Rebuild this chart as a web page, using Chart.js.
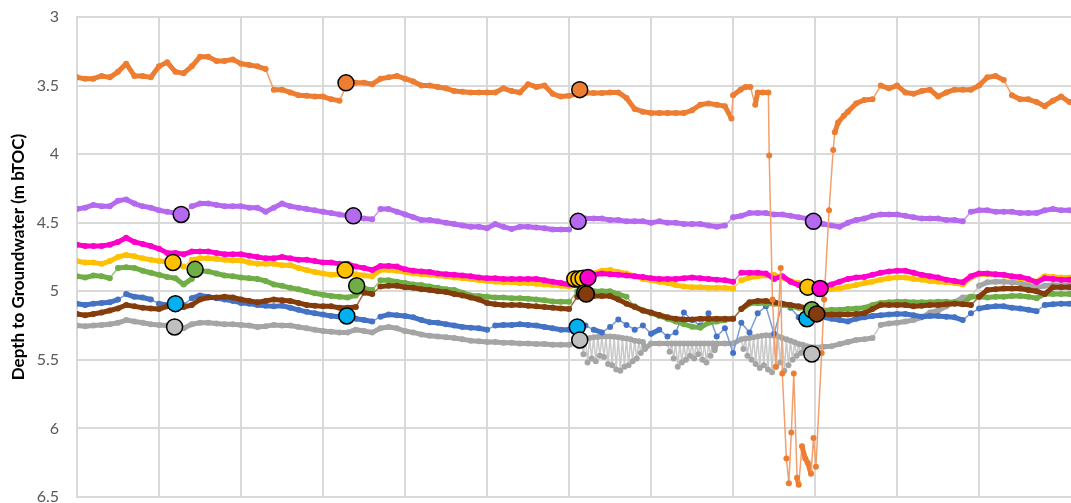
<!DOCTYPE html>
<html>
<head>
<meta charset="utf-8">
<title>Depth to Groundwater</title>
<script src="https://cdn.jsdelivr.net/npm/chart.js@4.4.1/dist/chart.umd.min.js"></script>
<style>
    body { margin: 0; background: #ffffff; }
</style>
</head>
<body>
<canvas id="myChart" width="1071" height="503"></canvas>
<script>
// day number of each logger reading (gridlines every 10 days)
var days = [];
for (var d = 0; d <= 121; d++) days.push(d);

// logger depths, m below top of casing, one per day
var purpleDepth = [
    4.40, 4.39, 4.37, 4.38, 4.38, 4.34, 4.33, 4.36, 4.38, 4.39,
    4.41, 4.42, 4.43, 4.44, 4.38, 4.36, 4.36, 4.37, 4.38, 4.38,
    4.38, 4.39, 4.39, 4.42, 4.39, 4.36, 4.38, 4.39, 4.40, 4.41,
    4.42, 4.43, 4.44, 4.45, 4.46, 4.47, 4.475, 4.40, 4.40, 4.42,
    4.44, 4.46, 4.48, 4.48, 4.49, 4.50, 4.51, 4.52, 4.53, 4.53,
    4.54, 4.51, 4.53, 4.545, 4.53, 4.53, 4.535, 4.54, 4.55, 4.55,
    4.55, 4.48, 4.47, 4.47, 4.47, 4.48, 4.48, 4.49, 4.49, 4.49,
    4.50, 4.49, 4.50, 4.50, 4.51, 4.51, 4.51, 4.52, 4.53, 4.52,
    4.46, 4.45, 4.43, 4.43, 4.43, 4.44, 4.44, 4.45, 4.46, 4.47,
    4.49, 4.51, 4.52, 4.53, 4.50, 4.48, 4.47, 4.45, 4.44, 4.44,
    4.44, 4.45, 4.46, 4.47, 4.47, 4.47, 4.48, 4.48, 4.49, 4.42,
    4.41, 4.41, 4.42, 4.42, 4.42, 4.43, 4.43, 4.43, 4.41, 4.40,
    4.41, 4.41
];
var magentaDepth = [
    4.66, 4.67, 4.67, 4.67, 4.66, 4.64, 4.61, 4.64, 4.655, 4.67,
    4.69, 4.72, 4.72, 4.73, 4.71, 4.71, 4.71, 4.72, 4.73, 4.73,
    4.73, 4.74, 4.75, 4.76, 4.76, 4.75, 4.76, 4.77, 4.77, 4.78,
    4.79, 4.79, 4.80, 4.80, 4.82, 4.83, 4.845, 4.815, 4.815, 4.82,
    4.84, 4.85, 4.855, 4.86, 4.87, 4.875, 4.88, 4.885, 4.89, 4.90,
    4.905, 4.905, 4.91, 4.91, 4.91, 4.91, 4.91, 4.92, 4.93, 4.94,
    4.95, 4.93, 4.925, 4.88, 4.87, 4.875, 4.88, 4.885, 4.89, 4.895,
    4.905, 4.91, 4.91, 4.91, 4.905, 4.90, 4.905, 4.91, 4.915, 4.92,
    4.93, 4.865, 4.865, 4.865, 4.87, 4.91, 4.89, 4.93, 4.955, 4.96,
    4.97, 4.965, 4.95, 4.93, 4.91, 4.90, 4.895, 4.88, 4.865, 4.855,
    4.85, 4.85, 4.865, 4.88, 4.89, 4.90, 4.915, 4.925, 4.935, 4.89,
    4.87, 4.87, 4.875, 4.88, 4.89, 4.895, 4.91, 4.935, 4.905, 4.91,
    4.915, 4.915
];
var yellowDepth = [
    4.78, 4.79, 4.79, 4.80, 4.78, 4.75, 4.735, 4.745, 4.76, 4.77,
    4.78, 4.785, 4.80, 4.82, 4.77, 4.76, 4.76, 4.765, 4.77, 4.775,
    4.775, 4.79, 4.80, 4.80, 4.80, 4.81, 4.81, 4.83, 4.845, 4.86,
    4.87, 4.88, 4.875, 4.875, 4.875, 4.885, 4.89, 4.845, 4.845, 4.85,
    4.86, 4.87, 4.875, 4.88, 4.885, 4.89, 4.90, 4.905, 4.91, 4.92,
    4.925, 4.93, 4.935, 4.935, 4.94, 4.94, 4.945, 4.95, 4.955, 4.96,
    4.965, 4.955, 4.94, 4.87, 4.85, 4.845, 4.86, 4.87, 4.89, 4.91,
    4.92, 4.93, 4.94, 4.955, 4.965, 4.97, 4.97, 4.975, 4.975, 4.975,
    4.98, 4.92, 4.90, 4.89, 4.885, 4.88, 4.90, 4.925, 4.94, 4.96,
    4.985, 4.99, 4.985, 4.98, 4.965, 4.955, 4.94, 4.93, 4.915, 4.905,
    4.90, 4.90, 4.91, 4.915, 4.925, 4.93, 4.935, 4.94, 4.95, 4.90,
    4.875, 4.875, 4.88, 4.885, 4.895, 4.905, 4.915, 4.93, 4.89, 4.895,
    4.90, 4.90
];
var greenDepth = [
    4.89, 4.90, 4.885, 4.89, 4.905, 4.83, 4.825, 4.83, 4.85, 4.865,
    4.88, 4.895, 4.905, 4.95, 4.91, 4.85, 4.855, 4.87, 4.885, 4.89,
    4.90, 4.905, 4.91, 4.925, 4.95, 4.96, 4.975, 4.985, 5.00, 5.015,
    5.025, 5.035, 5.04, 5.045, 5.03, 4.98, 4.99, 4.92, 4.92, 4.93,
    4.94, 4.95, 4.955, 4.965, 4.975, 4.985, 4.99, 5.01, 5.03, 5.035,
    5.04, 5.045, 5.045, 5.05, 5.05, 5.055, 5.06, 5.065, 5.075, 5.076,
    5.076, 5.00, 5.00, 5.00, 5.00, 5.00, 5.02, 5.04, 5.11, 5.14,
    5.16, 5.18, 5.20, 5.22, 5.24, 5.258, 5.265, 5.23, 5.22, 5.21,
    5.20, 5.13, 5.09, 5.085, 5.09, 5.09, 5.10, 5.11, 5.12, 5.125,
    5.13, 5.14, 5.135, 5.135, 5.13, 5.125, 5.12, 5.10, 5.085, 5.08,
    5.076, 5.076, 5.08, 5.08, 5.08, 5.076, 5.076, 5.08, 5.09, 5.04,
    5.04, 5.045, 5.04, 5.04, 5.035, 5.035, 5.04, 5.05, 5.02, 5.02,
    5.02, 5.02
];
var brownDepth = [
    5.165, 5.175, 5.165, 5.155, 5.14, 5.125, 5.10, 5.11, 5.12, 5.125,
    5.13, 5.11, 5.10, 5.115, 5.10, 5.06, 5.045, 5.045, 5.04, 5.045,
    5.06, 5.07, 5.08, 5.07, 5.06, 5.065, 5.07, 5.085, 5.10, 5.105,
    5.11, 5.11, 5.12, 5.12, 5.115, 5.01, 5.02, 4.965, 4.96, 4.96,
    4.97, 4.975, 4.985, 4.99, 5.00, 5.005, 5.02, 5.03, 5.045, 5.06,
    5.085, 5.095, 5.10, 5.10, 5.10, 5.105, 5.11, 5.115, 5.12, 5.125,
    5.13, 5.04, 5.03, 5.035, 5.035, 5.035, 5.06, 5.09, 5.115, 5.14,
    5.155, 5.173, 5.19, 5.20, 5.205, 5.205, 5.20, 5.20, 5.20, 5.20,
    5.20, 5.13, 5.08, 5.07, 5.07, 5.08, 5.09, 5.10, 5.11, 5.12,
    5.15, 5.17, 5.17, 5.17, 5.17, 5.165, 5.16, 5.13, 5.10, 5.10,
    5.10, 5.10, 5.11, 5.105, 5.10, 5.10, 5.095, 5.09, 5.095, 5.10,
    5.04, 4.99, 4.985, 4.98, 4.98, 4.98, 4.99, 5.00, 5.02, 4.97,
    4.97, 4.97
];
var blueDepth = [
    5.09, 5.10, 5.09, 5.085, 5.08, 5.06, 5.02, 5.04, 5.045, 5.06,
    5.09, 5.10, 5.095, 5.10, 5.05, 5.03, 5.04, 5.05, 5.06, 5.07,
    5.085, 5.09, 5.10, 5.105, 5.11, 5.105, 5.12, 5.135, 5.15, 5.16,
    5.17, 5.18, 5.185, 5.19, 5.20, 5.21, 5.22, 5.185, 5.17, 5.175,
    5.18, 5.19, 5.21, 5.225, 5.23, 5.24, 5.25, 5.26, 5.265, 5.27,
    5.28, 5.25, 5.245, 5.245, 5.24, 5.245, 5.25, 5.26, 5.27, 5.28,
    5.28, 5.26, 5.25, 5.28, 5.30, 5.26, 5.205, 5.245, 5.28, 5.25,
    5.31, 5.28, 5.33, 5.30, 5.155, 5.21, 5.25, 5.16, 5.33, 5.27,
    5.45, 5.23, 5.30, 5.16, 5.11, 5.31, 5.09, 5.12, 5.19, 5.20,
    5.19, 5.19, 5.20, 5.21, 5.22, 5.20, 5.19, 5.18, 5.175, 5.17,
    5.165, 5.165, 5.175, 5.185, 5.18, 5.18, 5.185, 5.19, 5.21, 5.16,
    5.125, 5.115, 5.11, 5.11, 5.12, 5.125, 5.135, 5.145, 5.10, 5.095,
    5.09, 5.09
];
var greyDepth = [
    5.25, 5.255, 5.25, 5.245, 5.24, 5.23, 5.21, 5.22, 5.23, 5.24,
    5.245, 5.25, 5.26, 5.27, 5.24, 5.23, 5.23, 5.235, 5.24, 5.24,
    5.245, 5.25, 5.26, 5.255, 5.245, 5.25, 5.25, 5.26, 5.27, 5.28,
    5.29, 5.295, 5.30, 5.30, 5.28, 5.29, 5.30, 5.27, 5.26, 5.27,
    5.29, 5.30, 5.315, 5.325, 5.33, 5.335, 5.34, 5.35, 5.36, 5.365,
    5.37, 5.37, 5.375, 5.375, 5.38, 5.38, 5.385, 5.385, 5.39, 5.39,
    5.39, 5.37, 5.345, 5.335, 5.33, 5.33, 5.335, 5.345, 5.36, 5.37,
    5.38, 5.38, 5.38, 5.38, 5.38, 5.38, 5.38, 5.38, 5.38, 5.38,
    5.38, 5.35, 5.34, 5.33, 5.32, 5.325, 5.34, 5.36, 5.385, 5.40,
    5.41, 5.405, 5.40, 5.385, 5.37, 5.355, 5.35, 5.34, 5.245, 5.235,
    5.23, 5.22, 5.21, 5.19, 5.155, 5.14, 5.11, 5.08, 5.045, 5.04,
    4.96, 4.935, 4.93, 4.93, 4.935, 4.94, 4.955, 4.975, 4.96, 4.955,
    4.955, 4.955
];
// extra grey readings in the three stretches where it kept dropping
var greyMidDays = [61.5, 62.5, 63.5, 64.5, 65.5, 66.5, 67.5, 68.5,
    72.5, 73.5, 74.5, 75.5, 76.5, 77.5,
    81.5, 82.5, 83.5, 84.5, 85.5, 86.5, 87.5, 88.5];
var greyMidDepth = [5.355, 5.34, 5.333, 5.33, 5.332, 5.34, 5.35, 5.365,
    5.38, 5.38, 5.38, 5.38, 5.38, 5.38,
    5.345, 5.335, 5.325, 5.322, 5.33, 5.35, 5.372, 5.39];
var greyDropDays = [61.25, 61.75, 62.25, 62.75, 63.25, 63.75, 64.25, 64.75, 65.25,
    65.75, 66.25, 66.75, 67.25, 67.75, 68.25, 68.75, 69.25,
    72.25, 72.75, 73.25, 73.75, 74.25, 74.75, 75.25, 75.75, 76.25, 76.75, 77.25, 77.75,
    81.25, 81.75, 82.25, 82.75, 83.25, 83.75, 84.25, 84.75, 85.25, 85.75, 86.25,
    86.75, 87.25, 87.75, 88.25, 88.75];
var greyDropDepth = [5.40, 5.46, 5.52, 5.49, 5.51, 5.47, 5.48, 5.53, 5.54,
    5.57, 5.58, 5.55, 5.54, 5.51, 5.49, 5.45, 5.42,
    5.44, 5.49, 5.55, 5.52, 5.50, 5.47, 5.49, 5.46, 5.50, 5.52, 5.47, 5.43,
    5.42, 5.47, 5.50, 5.53, 5.56, 5.54, 5.57, 5.59, 5.55, 5.52, 5.58,
    5.54, 5.50, 5.47, 5.45, 5.43];

// orange logger has its own times (denser while it was pumped)
var orangeDays = [
    0, 1, 2, 3, 4, 5, 6, 7, 8, 9, 10, 11, 12, 13, 14, 15, 16, 17, 18, 19,
    20, 21, 22, 23, 24, 25, 26, 27, 28, 29, 30, 31, 32, 33, 34, 35, 36, 37, 38, 39,
    40, 41, 42, 43, 44, 45, 46, 47, 48, 49, 50, 51, 52, 53, 54, 55, 56, 57, 58, 59,
    60, 61, 62, 63, 64, 65, 66, 67, 68, 69, 70, 71, 72, 73, 74, 75, 76, 77, 78, 79,
    79.8, 80, 80.9, 81.5, 82.1, 82.7, 83, 83.6, 84.3, 84.4, 84.8, 85.2, 85.8, 86,
    86.5, 86.8, 87.1, 87.4, 87.8, 88, 88.4, 88.8, 89.1, 89.5, 89.8, 90.1, 90.8,
    91.1, 91.7, 92.2, 92.4, 92.8, 93.5, 94, 95,
    96, 97, 98, 99, 100, 101, 102, 103, 104, 105, 106, 107, 108, 109, 110,
    111, 112, 113, 114, 115, 116, 117, 118, 119, 120, 121
];
var orangeDepth = [
    3.44, 3.45, 3.45, 3.43, 3.44, 3.40, 3.34, 3.43, 3.43, 3.44,
    3.36, 3.33, 3.40, 3.41, 3.36, 3.29, 3.29, 3.32, 3.32, 3.31,
    3.34, 3.35, 3.36, 3.38, 3.53, 3.53, 3.55, 3.57, 3.575, 3.58,
    3.58, 3.60, 3.61, 3.48, 3.48, 3.48, 3.49, 3.45, 3.44, 3.43,
    3.45, 3.47, 3.50, 3.50, 3.51, 3.52, 3.54, 3.545, 3.55, 3.55,
    3.55, 3.55, 3.52, 3.54, 3.55, 3.49, 3.51, 3.50, 3.56, 3.58,
    3.575, 3.56, 3.555, 3.555, 3.555, 3.55, 3.55, 3.59, 3.67, 3.69,
    3.70, 3.70, 3.70, 3.70, 3.70, 3.68, 3.64, 3.63, 3.64, 3.65,
    3.74, 3.57, 3.53, 3.51, 3.51, 3.64, 3.55, 3.55, 3.55, 4.01, 5.06, 5.55, 4.83, 5.60,
    6.22, 6.40, 6.03, 5.60, 6.36, 6.41, 6.13, 6.22, 6.25, 6.33, 6.07, 6.28, 5.45,
    5.06, 4.41, 3.97, 3.84, 3.77, 3.72, 3.69, 3.63,
    3.605, 3.60, 3.50, 3.52, 3.50, 3.55, 3.56, 3.54, 3.53, 3.58, 3.55, 3.53, 3.53, 3.53, 3.50,
    3.44, 3.43, 3.46, 3.57, 3.60, 3.60, 3.62, 3.65, 3.61, 3.58, 3.62
];

// manual dip measurements
var orangeDipDays = [32.8, 61.3];
var orangeDip = [3.48, 3.53];
var purpleDipDays = [12.7, 33.7, 61.1, 89.8];
var purpleDip = [4.44, 4.45, 4.49, 4.49];
var yellowDipDays = [11.7, 32.7, 60.7, 61.2, 61.7, 89.1];
var yellowDip = [4.79, 4.845, 4.91, 4.91, 4.905, 4.97];
var magentaDipDays = [62.3, 90.6];
var magentaDip = [4.90, 4.98];
var greenDipDays = [14.4, 34.1, 61.9, 89.6];
var greenDip = [4.84, 4.96, 5.01, 5.135];
var brownDipDays = [62.1, 90.2];
var brownDip = [5.02, 5.165];
var blueDipDays = [12.0, 32.9, 61.0, 89.0];
var blueDip = [5.09, 5.18, 5.26, 5.20];
var greyDipDays = [11.9, 61.3, 89.6];
var greyDip = [5.26, 5.355, 5.457];


function pairs(xs, ys) {
    var out = [];
    for (var i = 0; i < xs.length; i++) {
        out.push({ x: xs[i], y: ys[i] });
    }
    return out;
}

var greyPoints = pairs(days, greyDepth)
    .concat(pairs(greyMidDays, greyMidDepth))
    .concat(pairs(greyDropDays, greyDropDepth));
greyPoints.sort(function (a, b) { return a.x - b.x; });

function logger(label, color, thinColor, jump, points) {
    // big jumps between readings are drawn as a thin line
    function isJump(ctx) {
        return Math.abs(ctx.p1.parsed.y - ctx.p0.parsed.y) > jump;
    }
    return {
        label: label,
        data: points,
        borderColor: color,
        backgroundColor: color,
        borderWidth: 5,
        borderJoinStyle: 'round',
        borderCapStyle: 'round',
        pointRadius: 3,
        pointBorderWidth: 0,
        pointBackgroundColor: color,
        segment: {
            borderWidth: function (ctx) { return isJump(ctx) ? 1.5 : 5; },
            borderColor: function (ctx) { return isJump(ctx) ? thinColor : color; }
        }
    };
}

function dips(label, color, points) {
    return {
        label: label,
        data: points,
        showLine: false,
        pointRadius: 8,
        pointBackgroundColor: color,
        pointBorderColor: '#000000',
        pointBorderWidth: 1.5
    };
}

// first dataset is drawn on top
var datasets = [
    dips('Brown dip', '#843C0C', pairs(brownDipDays, brownDip)),
    dips('Magenta dip', '#FF00CC', pairs(magentaDipDays, magentaDip)),
    dips('Grey dip', '#BFBFBF', pairs(greyDipDays, greyDip)),
    dips('Green dip', '#70AD47', pairs(greenDipDays, greenDip)),
    dips('Yellow dip', '#FFC000', pairs(yellowDipDays, yellowDip)),
    dips('Purple dip', '#B469EE', pairs(purpleDipDays, purpleDip)),
    dips('Blue dip', '#00B0F0', pairs(blueDipDays, blueDip)),
    dips('Orange dip', '#ED7D31', pairs(orangeDipDays, orangeDip)),
    logger('Orange', '#ED7D31', '#F2A06E', 0.1, pairs(orangeDays, orangeDepth)),
    logger('Purple', '#B469EE', '#C994F3', 0.05, pairs(days, purpleDepth)),
    logger('Magenta', '#FF00CC', '#FF66DD', 0.05, pairs(days, magentaDepth)),
    logger('Yellow', '#FFC000', '#FFD24D', 0.05, pairs(days, yellowDepth)),
    logger('Brown', '#843C0C', '#A86A44', 0.05, pairs(days, brownDepth)),
    logger('Green', '#70AD47', '#97C47A', 0.05, pairs(days, greenDepth)),
    logger('Blue', '#4472C4', '#7A9BD6', 0.03, pairs(days, blueDepth)),
    logger('Grey', '#A5A5A5', '#C9C9C9', 0.05, greyPoints)
];

var config = {
    type: 'line',
    data: { datasets: datasets },
    options: {
        responsive: false,
        animation: false,
        layout: { autoPadding: false, padding: { top: 17, right: 0, bottom: 0, left: 0 } },
        plugins: {
            legend: { display: false },
            tooltip: { enabled: false }
        },
        scales: {
            x: {
                type: 'linear',
                min: 0,
                max: 121.2,
                ticks: { display: false, stepSize: 10 },
                grid: { color: '#d9d9d9', lineWidth: 2, drawTicks: false },
                border: { display: false },
                afterBuildTicks: function (axis) {
                    axis.ticks = axis.ticks.filter(function (t) { return t.value % 10 === 0; });
                },
                afterFit: function (axis) {
                    axis.height = 6;
                    axis.paddingLeft = 0;
                    axis.paddingRight = 0;
                }
            },
            y: {
                reverse: true,
                min: 3,
                max: 6.5,
                ticks: {
                    stepSize: 0.5,
                    color: '#595959',
                    padding: 18,
                    font: { family: 'Lato', size: 16 },
                    callback: function (v) { return String(v); }
                },
                grid: { color: '#d9d9d9', lineWidth: 2, drawTicks: false },
                border: { color: '#d9d9d9', width: 2 },
                title: {
                    display: true,
                    text: 'Depth to Groundwater (m bTOC)',
                    color: '#000000',
                    padding: { top: 8, bottom: 0 },
                    font: { family: 'Lato', size: 17, weight: 'bold' }
                },
                afterFit: function (axis) {
                    axis.width = 77;
                    axis.paddingTop = 0;
                    axis.paddingBottom = 0;
                }
            }
        }
    }
};

var ctx = document.getElementById('myChart').getContext('2d');
var myChart = new Chart(ctx, config);
</script>
</body>
</html>
